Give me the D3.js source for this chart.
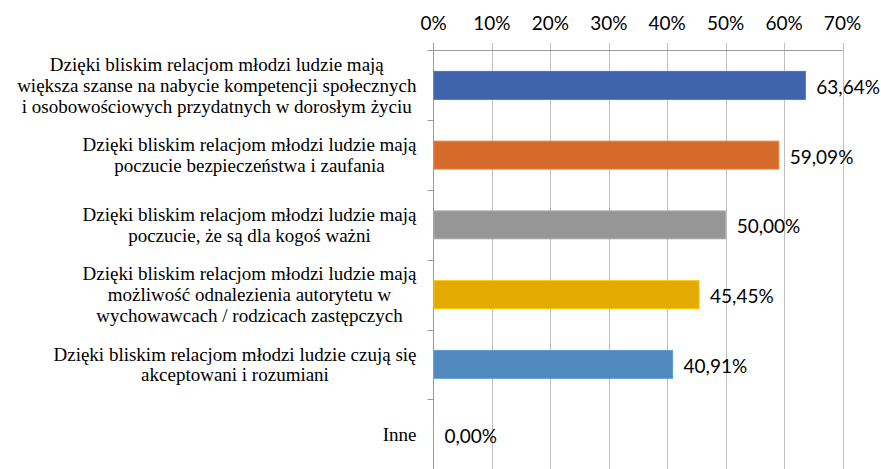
<!DOCTYPE html>
<html>
<head>
<meta charset="utf-8">
<script src="https://cdn.jsdelivr.net/npm/d3@7"></script>
<style>
  html, body { margin: 0; padding: 0; background: #fff; }
  svg { display: block; }
</style>
</head>
<body>
<svg id="chart" width="881" height="469"></svg>
<script>
const categories = [
  ["Dzięki bliskim relacjom młodzi ludzie mają", "większa szanse na nabycie kompetencji społecznych", "i osobowościowych przydatnych w dorosłym życiu"],
  ["Dzięki bliskim relacjom młodzi ludzie mają", "poczucie bezpieczeństwa i zaufania"],
  ["Dzięki bliskim relacjom młodzi ludzie mają", "poczucie, że są dla kogoś ważni"],
  ["Dzięki bliskim relacjom młodzi ludzie mają", "możliwość odnalezienia autorytetu w", "wychowawcach / rodzicach zastępczych"],
  ["Dzięki bliskim relacjom młodzi ludzie czują się", "akceptowani i rozumiani"],
  ["Inne"]
];
const values = [63.64, 59.09, 50.00, 45.45, 40.91, 0.00];
const barColors = ["#3E64AD", "#D56B2A", "#969696", "#E3AB00", "#4F89BE", "#5B9BD5"];
const xTicks = [0, 10, 20, 30, 40, 50, 60, 70];

(function () {
const svg = d3.select("#chart");
const W = 881, H = 469;
const pLeft = 433.5, pRight = 842.5, pTop = 50.5, pBottom = 469;

const x = d3.scaleLinear().domain([0, 70]).range([pLeft, pRight]);
const ids = categories.map((c, i) => i);
const y = d3.scaleBand().domain(ids).range([pTop, pBottom]).paddingInner(0.6).paddingOuter(0.3);
const step = y.step();
const y0 = y.range()[0];

const gridColor = "#BFBFBF";
const axisColor = "#9A9A9A";

// gridlines
svg.append("g").selectAll("line").data(xTicks.slice(1)).join("line")
  .attr("x1", d => Math.round(x(d)) + 0.5).attr("x2", d => Math.round(x(d)) + 0.5)
  .attr("y1", pTop - 7.5).attr("y2", H)
  .attr("stroke", gridColor).attr("stroke-width", 1);

// top axis line and left axis line
svg.append("line").attr("x1", pLeft - 6).attr("x2", pRight).attr("y1", pTop).attr("y2", pTop)
  .attr("stroke", axisColor).attr("stroke-width", 1);
svg.append("line").attr("x1", pLeft).attr("x2", pLeft).attr("y1", pTop - 7.5).attr("y2", H)
  .attr("stroke", axisColor).attr("stroke-width", 1);

// left axis ticks at band boundaries
const boundaries = d3.range(categories.length + 1).map(i => y0 + i * step);
svg.append("g").selectAll("line").data(boundaries.slice(1)).join("line")
  .attr("x1", pLeft - 6).attr("x2", pLeft)
  .attr("y1", d => Math.round(d) + 0.5).attr("y2", d => Math.round(d) + 0.5)
  .attr("stroke", axisColor).attr("stroke-width", 1);

// tick labels
svg.append("g").selectAll("text").data(xTicks).join("text")
  .attr("x", d => x(d)).attr("y", 22)
  .attr("text-anchor", "middle").attr("dominant-baseline", "central")
  .attr("font-family", "Lato, 'Open Sans', sans-serif").attr("font-size", 19)
  .attr("fill", "#000")
  .text(d => d + "%");

// bars
svg.append("g").selectAll("rect").data(values).join("rect")
  .attr("x", pLeft + 0.5)
  .attr("y", (d, i) => y(i))
  .attr("width", d => Math.max(0, x(d) - pLeft - 0.5))
  .attr("height", y.bandwidth())
  .attr("fill", (d, i) => barColors[i])
  .attr("stroke", (d, i) => d3.color(barColors[i]).brighter(0.35))
  .attr("stroke-width", d => d > 0 ? 1 : 0);

// value labels
const fmt = d3.format(".2f");
svg.append("g").selectAll("text").data(values).join("text")
  .attr("x", d => x(d) + 11)
  .attr("y", (d, i) => y(i) + y.bandwidth() / 2 + 1)
  .attr("dominant-baseline", "central")
  .attr("font-family", "Lato, 'Open Sans', sans-serif").attr("font-size", 19)
  .attr("fill", "#000")
  .text(d => fmt(d).replace(".", ",") + "%");

// category labels
const lineH = 20.7;
const labelRight = 416.5;
categories.forEach((lines, i) => {
  const cy = y(i) + y.bandwidth() / 2;
  const g = svg.append("g");
  const texts = g.selectAll("text").data(lines).join("text")
    .attr("font-family", "'Liberation Serif', 'Times New Roman', serif")
    .attr("font-size", 19)
    .attr("fill", "#000")
    .attr("text-anchor", "middle")
    .attr("dominant-baseline", "central")
    .attr("y", (d, j) => cy + (j - (lines.length - 1) / 2) * lineH)
    .text(d => d);
  let maxW = 0;
  texts.each(function() { maxW = Math.max(maxW, this.getComputedTextLength()); });
  texts.attr("x", labelRight - maxW / 2);
});
})();
</script>
</body>
</html>
